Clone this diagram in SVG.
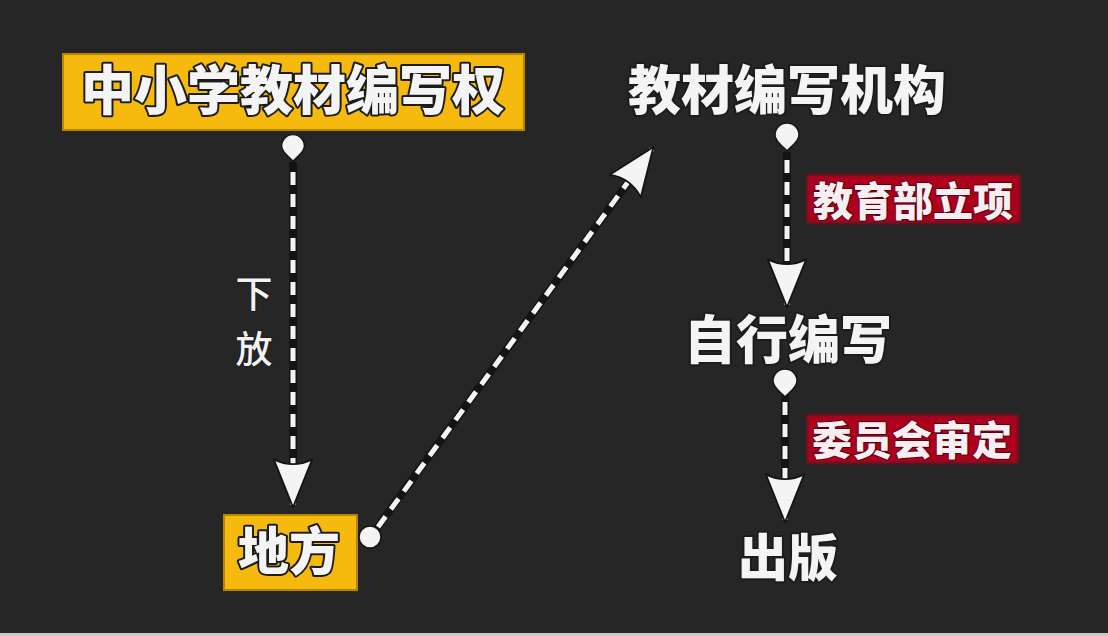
<svg xmlns="http://www.w3.org/2000/svg" width="1108" height="636" viewBox="0 0 1108 636">
  <defs>
    <style>
      .big { font-family: "Noto Sans CJK SC", "Noto Sans", sans-serif; font-weight: 900; fill: #f4f4f4; stroke: #1c1c1c; stroke-width: 4; paint-order: stroke; stroke-linejoin: round; text-anchor: middle; }
      .tag { font-family: "Noto Sans CJK SC", "Noto Sans", sans-serif; font-weight: 900; fill: #f6eef0; stroke: #5a0010; stroke-width: 2; paint-order: stroke; text-anchor: middle; font-size: 40px; }
      .side { font-family: "Noto Sans CJK SC", "Noto Sans", sans-serif; font-weight: 500; fill: #f2f2f2; stroke: #1c1c1c; stroke-width: 2; paint-order: stroke; text-anchor: middle; font-size: 37px; }
      .ybox { fill: #f6b90e; stroke: #b88500; stroke-width: 2; }
      .rbox { fill: #ad001c; }
      .under { fill: none; stroke: #141414; stroke-width: 8; }
      .dash { fill: none; stroke: #f4f4f4; stroke-width: 5; stroke-dasharray: 13 9; stroke-linecap: butt; }
      .dot { fill: #f4f4f4; stroke: #141414; stroke-width: 1.5; }
    </style>
    <marker id="head" markerUnits="userSpaceOnUse" markerWidth="60" markerHeight="60" refX="0" refY="0" viewBox="-45 -25 50 50" orient="auto" overflow="visible">
      <path d="M2,0 L-38,-16 Q-30,0 -38,16 Z" fill="#f4f4f4" stroke="#141414" stroke-width="1.5" stroke-linejoin="round"/>
    </marker>
    <filter id="glow" x="-10%" y="-20%" width="120%" height="140%">
      <feGaussianBlur stdDeviation="1.5"/>
    </filter>
    <path id="drop" d="M0,16 C-4,11 -12,7 -12,0 A12,12 0 1 1 12,0 C12,7 4,11 0,16 Z"/>
  </defs>

  <rect x="0" y="0" width="1108" height="636" fill="#262626"/>
  <rect x="0" y="633" width="1108" height="3" fill="#c9c9c9"/>

  <g id="connectors">
    <path class="under" d="M293,162 L293,490"/>
    <path class="dash" d="M293,172 L293,505" marker-end="url(#head)"/>
    <path class="under" d="M374,532 L640,166"/>
    <path class="dash" d="M378,527 L652,149" marker-end="url(#head)"/>
    <path class="under" d="M787,152 L787,290"/>
    <path class="dash" d="M787,160 L787,305" marker-end="url(#head)"/>
    <path class="under" d="M785,394 L785,505"/>
    <path class="dash" d="M785,402 L785,520" marker-end="url(#head)"/>
    <use href="#drop" class="dot" transform="translate(293,146) scale(0.95)"/>
    <use href="#drop" class="dot" transform="translate(787,135)"/>
    <use href="#drop" class="dot" transform="translate(785,381)"/>
    <circle class="dot" cx="370" cy="537" r="11"/>
  </g>

  <g id="node-rights">
    <rect class="ybox" x="63" y="54" width="461" height="76"/>
    <text class="big" x="293" y="110" font-size="53">中小学教材编写权</text>
  </g>

  <g id="label-xiafang">
    <text class="side" x="254" y="308">下</text>
    <text class="side" x="254" y="363">放</text>
  </g>

  <g id="node-local">
    <rect class="ybox" x="224" y="515" width="133" height="75"/>
    <text class="big" x="289" y="570" font-size="51">地方</text>
  </g>

  <g id="node-org">
    <text class="big" x="787" y="110" font-size="53">教材编写机构</text>
  </g>

  <g id="label-moe">
    <rect class="rbox" x="807" y="175" width="213" height="48" filter="url(#glow)"/>
    <text class="tag" x="913" y="216">教育部立项</text>
  </g>

  <g id="node-self">
    <text class="big" x="788" y="359" font-size="52">自行编写</text>
  </g>

  <g id="label-committee">
    <rect class="rbox" x="807" y="415" width="211" height="48" filter="url(#glow)"/>
    <text class="tag" x="912" y="455">委员会审定</text>
  </g>

  <g id="node-publish">
    <text class="big" x="788" y="576" font-size="50">出版</text>
  </g>
</svg>
